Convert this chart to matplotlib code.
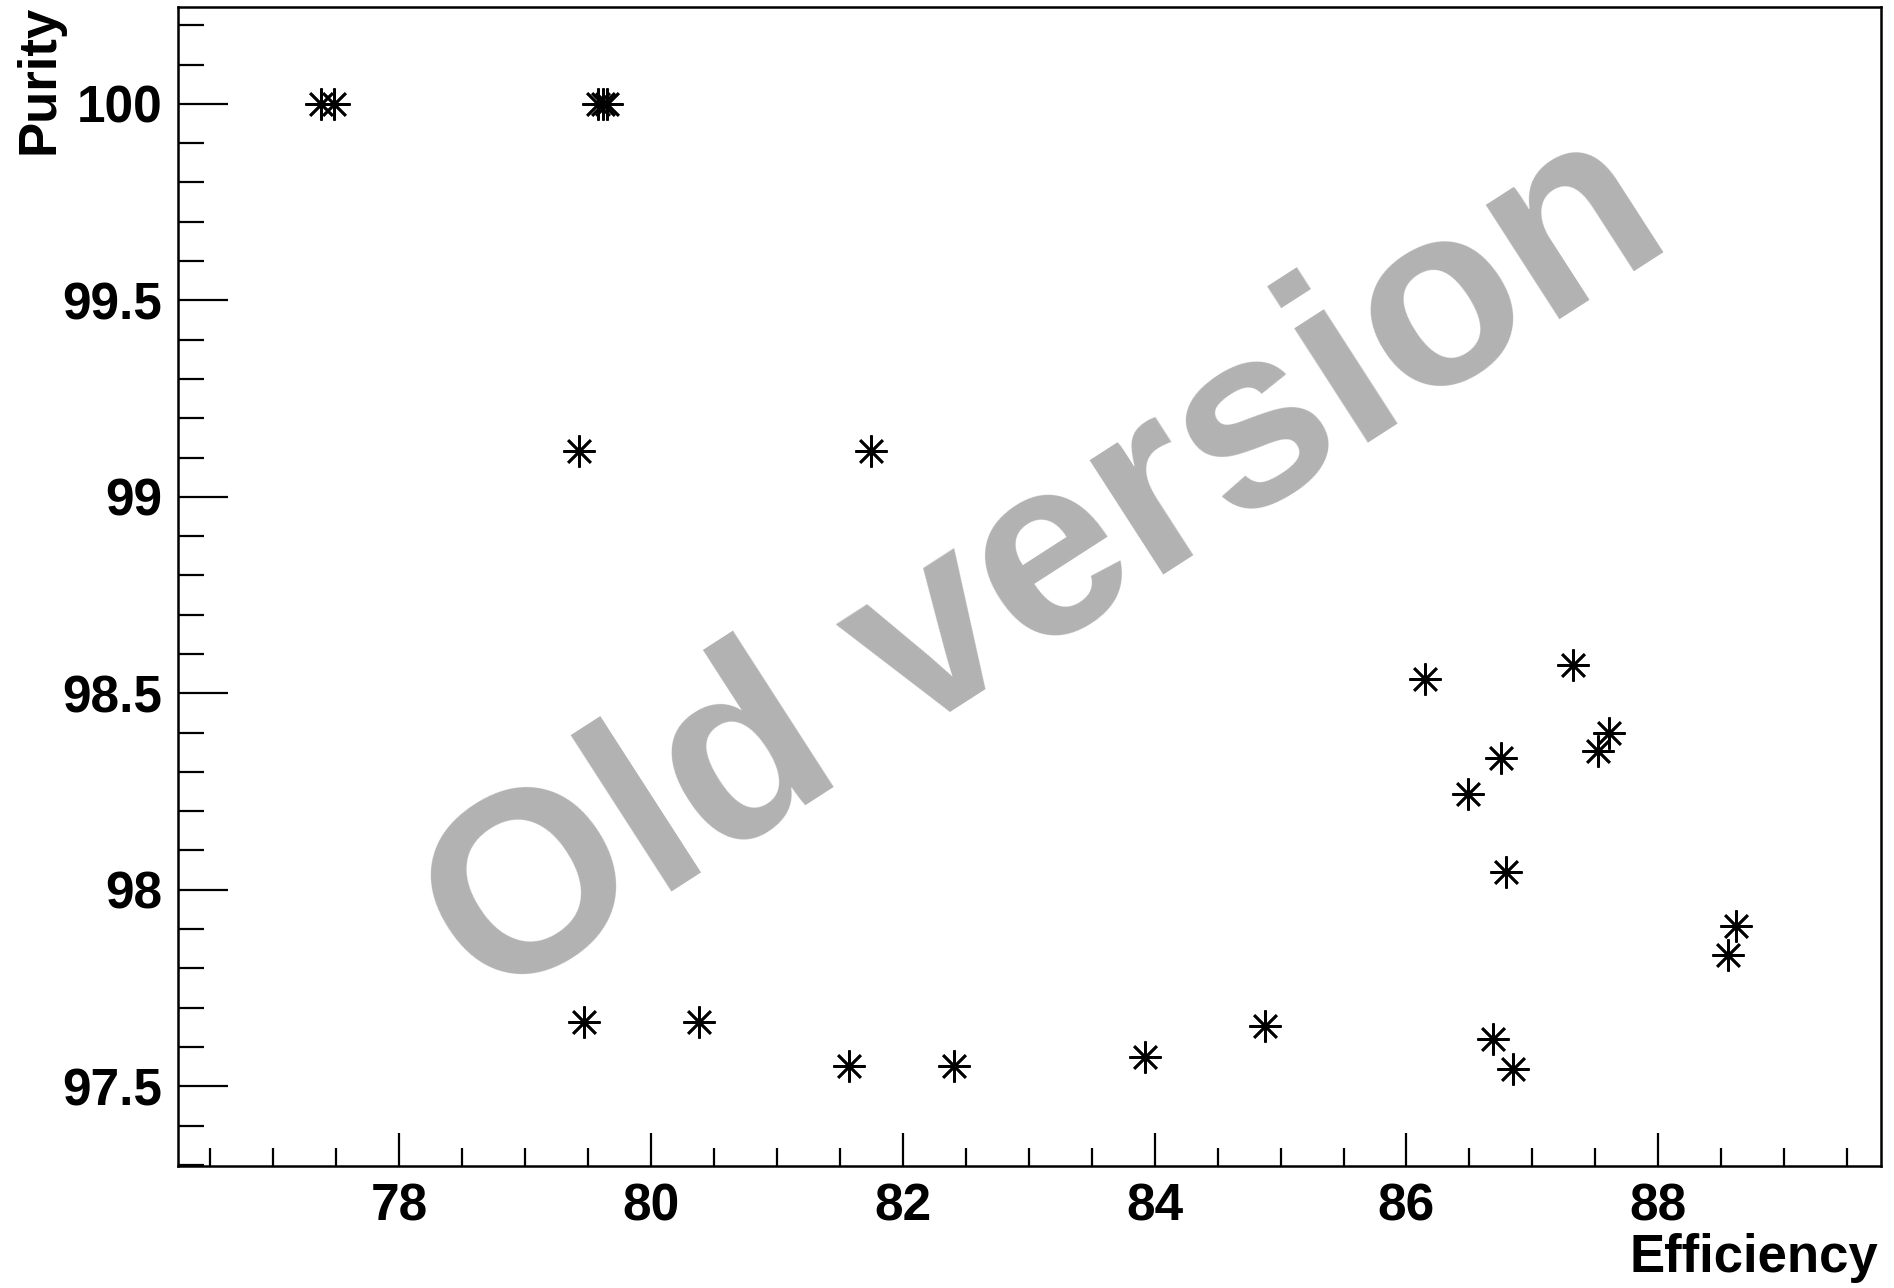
import matplotlib
matplotlib.use("Agg")
import matplotlib.pyplot as plt

# Data
efficiency = [77.38, 77.48, 79.58, 79.62, 79.65, 79.43, 81.75, 86.15, 87.32, 86.49,
              86.75, 87.52, 87.61, 86.79, 88.62, 88.55, 79.47, 80.38, 81.57, 82.41,
              83.92, 84.88, 86.69, 86.85]
purity = [100.0, 100.0, 100.0, 100.0, 100.0, 99.117, 99.117, 98.536, 98.573, 98.244,
          98.336, 98.352, 98.398, 98.044, 97.909, 97.835, 97.663, 97.663, 97.552, 97.552,
          97.574, 97.654, 97.620, 97.543]
x_ticks = [78, 80, 82, 84, 86, 88]
y_ticks = [97.5, 98.0, 98.5, 99.0, 99.5, 100.0]
y_tick_labels = ["97.5", "98", "98.5", "99", "99.5", "100"]
x_label = "Efficiency"
y_label = "Purity"
watermark = "Old version"

plt.rcParams['font.family'] = ['Liberation Sans', 'DejaVu Sans']
plt.rcParams['font.weight'] = 'bold'

fig = plt.figure(figsize=(18.94, 12.88), dpi=100)
ax = fig.add_axes([0.0938, 0.0947, 0.9932 - 0.0938, 0.9944 - 0.0947])

ax.plot(efficiency, purity, linestyle='none', marker=(8, 2, 0), markersize=23,
        markeredgewidth=1.9, color='black', zorder=3)

ax.set_xlim(76.24, 89.77)
ax.set_ylim(97.297, 100.246)

ax.set_xticks(x_ticks)
ax.set_xticklabels([str(v) for v in x_ticks])
ax.set_yticks(y_ticks)
ax.set_yticklabels(y_tick_labels)
ax.set_xticks([v / 2 for v in range(153, 180)], minor=True)
ax.set_yticks([v / 10 for v in range(973, 1003)], minor=True)

ax.tick_params(axis='both', which='both', direction='in', top=False, right=False,
               width=1.6, color='black')
ax.tick_params(axis='x', which='major', length=24, pad=12, labelsize=37)
ax.tick_params(axis='x', which='minor', length=13)
ax.tick_params(axis='y', which='major', length=36, pad=11, labelsize=37)
ax.tick_params(axis='y', which='minor', length=19)
for lab in ax.get_xticklabels() + ax.get_yticklabels():
    lab.set_fontweight('bold')

for s in ax.spines.values():
    s.set_linewidth(1.8)
    s.set_color('black')

fig.text(0.021, 0.996, y_label, rotation=90, ha='center', va='top',
         fontsize=38, fontweight='bold')
fig.text(0.9916, 0.004, x_label, ha='right', va='bottom',
         fontsize=38, fontweight='bold')

fig.text(0.553, 0.557, watermark, rotation=32.8, rotation_mode='anchor',
         ha='center', va='center', fontsize=185, fontweight='bold',
         color='#b2b2b2', zorder=1)

fig.savefig("out.png", dpi=100)
